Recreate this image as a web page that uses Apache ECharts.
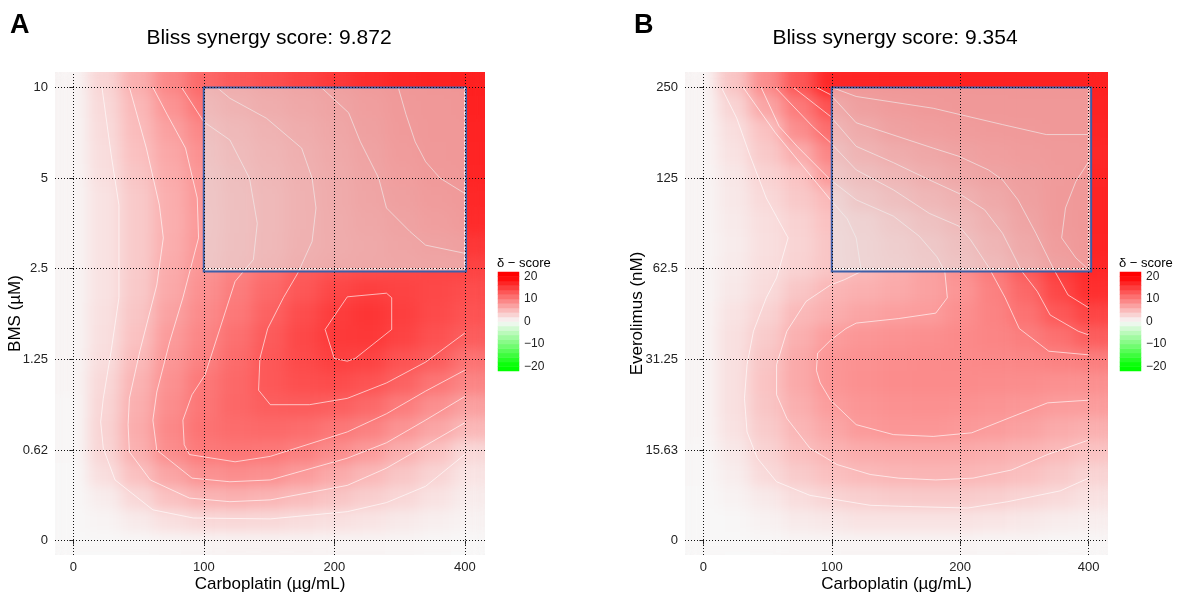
<!DOCTYPE html>
<html>
<head>
<meta charset="utf-8">
<title>Bliss synergy maps</title>
<script src="https://cdn.jsdelivr.net/npm/echarts@6.0.0/dist/echarts.min.js"></script>
<style>
  html, body { margin: 0; padding: 0; background: #fff; }
  #page { position: relative; width: 1177px; height: 594px; }
  .heat { position: absolute; filter: url(#smooth); }
  #chart { position: absolute; left: 0; top: 0; width: 1177px; height: 594px; }
</style>
</head>
<body>
<!-- blur the heat tiles the way the kriged surface looks; alpha is restored so the edges stay solid -->
<svg width="0" height="0" style="position:absolute">
  <filter id="smooth" x="0" y="0" width="1" height="1" color-interpolation-filters="sRGB">
    <feGaussianBlur stdDeviation="8 6"/>
    <feComponentTransfer><feFuncA type="linear" slope="60"/></feComponentTransfer>
  </filter>
</svg>
<div id="page">
  <div id="heatA" class="heat" style="left:55px;top:72px;width:430px;height:483px"></div>
  <div id="heatB" class="heat" style="left:685px;top:72px;width:423px;height:483px"></div>
  <div id="chart"></div>
</div>
<script>
// axis tick labels (dose levels)
const carboLabels = ['0', '100', '200', '400'];
const bmsLabels = ['0', '0.62', '1.25', '2.5', '5', '10'];
const everoLabels = ['0', '15.63', '31.25', '62.5', '125', '250'];

// delta scores, rows bottom (dose 0) -> top, 13 columns left -> right
const bmsSynergy = [
  [0.1, 0.1, 0.2, 0.3, 0.4, 0.5, 0.5, 0.5, 0.4, 0.4, 0.3, 0.2, 0.1],
  [0.1, 0.4, 1.1, 2.0, 2.6, 2.7, 2.6, 2.2, 1.9, 1.6, 1.2, 0.8, 0.5],
  [0.1, 1.0, 2.7, 4.4, 5.4, 5.7, 5.4, 4.8, 4.1, 3.4, 2.7, 1.8, 1.0],
  [0.1, 2.1, 4.5, 6.7, 8.2, 8.6, 8.4, 7.4, 6.3, 5.2, 4.0, 2.9, 1.6],
  [0.2, 2.8, 5.8, 8.6, 10.2, 10.5, 10.3, 9.7, 8.6, 7.5, 5.9, 4.4, 2.6],
  [0.2, 3.0, 6.1, 9.0, 10.7, 11.3, 11.5, 11.2, 10.4, 9.6, 8.1, 6.6, 5.2],
  [0.2, 2.8, 5.9, 8.6, 10.5, 11.7, 12.4, 12.6, 12.3, 11.5, 10.0, 8.5, 7.1],
  [0.3, 2.6, 5.6, 8.3, 10.3, 11.6, 12.9, 13.6, 13.9, 13.3, 12.1, 10.6, 9.3],
  [0.3, 2.2, 5.0, 7.9, 9.6, 11.4, 12.9, 14.0, 14.8, 14.6, 13.3, 12.5, 10.7],
  [0.3, 2.0, 4.4, 7.5, 9.2, 11.0, 12.7, 14.2, 15.3, 15.5, 14.6, 13.5, 12.5],
  [0.3, 1.9, 4.1, 6.9, 8.8, 10.3, 12.1, 13.8, 15.1, 15.7, 14.9, 14.0, 13.3],
  [0.3, 1.8, 3.8, 6.4, 8.4, 9.9, 11.5, 13.0, 14.3, 14.9, 14.6, 14.2, 13.8],
  [0.3, 1.8, 3.7, 6.2, 8.0, 9.4, 10.9, 12.6, 13.4, 13.8, 14.1, 14.4, 14.6],
  [0.3, 1.8, 3.7, 6.0, 7.8, 9.2, 10.6, 12.1, 13.0, 13.6, 14.4, 15.1, 15.6],
  [0.3, 1.8, 3.7, 5.9, 7.7, 9.1, 10.5, 11.9, 13.1, 14.0, 14.9, 15.8, 16.5],
  [0.3, 1.8, 3.8, 6.0, 7.8, 9.2, 10.5, 11.9, 13.2, 14.4, 15.5, 16.4, 16.8],
  [0.3, 2.0, 4.1, 6.2, 7.9, 9.4, 10.8, 12.1, 13.3, 14.6, 15.9, 16.8, 17.0],
  [0.3, 2.2, 4.5, 6.5, 8.4, 10.0, 11.2, 12.4, 13.6, 14.9, 16.3, 16.9, 17.1],
  [0.3, 2.3, 4.8, 7.1, 9.1, 10.6, 11.8, 13.0, 14.1, 15.4, 16.6, 17.0, 17.2],
  [0.3, 2.5, 5.2, 8.1, 10.4, 11.8, 12.9, 13.8, 14.7, 15.8, 16.8, 17.1, 17.3],
  [0.3, 2.8, 5.9, 9.1, 11.5, 12.8, 13.6, 14.5, 15.4, 16.4, 17.0, 17.3, 17.4]
];

const everoSynergy = [
  [0.1, 0.1, 0.2, 0.3, 0.3, 0.4, 0.4, 0.4, 0.4, 0.3, 0.3, 0.2, 0.2],
  [0.1, 0.2, 0.6, 1.1, 1.4, 1.7, 1.7, 1.7, 1.7, 1.5, 1.3, 1.0, 0.8],
  [0.1, 0.5, 1.2, 2.2, 2.9, 3.3, 3.6, 3.7, 3.6, 3.3, 2.8, 2.4, 1.8],
  [0.2, 0.9, 2.4, 3.6, 4.5, 5.0, 5.3, 5.4, 5.3, 5.0, 4.5, 3.8, 2.9],
  [0.2, 1.3, 3.0, 4.6, 5.5, 6.1, 6.3, 6.4, 6.3, 6.0, 5.6, 5.0, 4.3],
  [0.3, 1.8, 3.6, 5.3, 6.5, 7.6, 7.9, 7.9, 7.7, 7.4, 6.9, 6.2, 5.8],
  [0.3, 1.9, 4.1, 5.9, 7.3, 8.0, 8.3, 8.4, 8.3, 8.1, 7.8, 7.4, 7.3],
  [0.3, 1.9, 4.3, 6.4, 7.9, 8.4, 8.7, 8.8, 8.8, 8.7, 8.6, 8.4, 8.4],
  [0.3, 1.9, 4.1, 6.4, 7.9, 8.3, 8.6, 8.8, 8.9, 9.0, 9.2, 9.5, 9.8],
  [0.3, 1.9, 3.6, 5.8, 7.3, 7.9, 8.2, 8.5, 8.9, 9.3, 9.8, 11.0, 12.4],
  [0.3, 1.7, 3.0, 5.1, 6.0, 6.7, 7.2, 7.4, 8.5, 9.4, 10.8, 12.9, 14.4],
  [0.3, 1.3, 2.3, 4.0, 5.3, 5.8, 6.3, 7.0, 8.0, 9.6, 11.6, 14.3, 16.2],
  [0.3, 1.1, 2.1, 3.1, 4.1, 5.1, 6.0, 7.0, 8.4, 10.2, 12.7, 15.2, 16.8],
  [0.3, 1.0, 2.0, 2.9, 4.1, 5.2, 6.3, 7.5, 9.2, 11.2, 13.6, 16.1, 17.1],
  [0.3, 1.1, 2.1, 3.1, 4.4, 5.6, 7.2, 8.8, 10.4, 12.3, 14.6, 16.6, 17.2],
  [0.3, 1.3, 2.5, 3.8, 5.1, 7.8, 9.3, 10.8, 12.0, 13.6, 15.3, 16.6, 17.1],
  [0.3, 1.4, 3.0, 4.3, 7.7, 9.5, 11.0, 12.6, 13.8, 14.8, 15.7, 16.5, 17.0],
  [0.3, 1.8, 3.8, 6.1, 9.3, 11.6, 13.1, 14.0, 15.1, 15.8, 16.3, 16.6, 16.8],
  [0.3, 2.1, 4.4, 8.6, 11.2, 13.4, 15.2, 15.8, 16.3, 16.6, 16.8, 17.0, 17.0],
  [0.3, 2.9, 6.6, 10.2, 13.4, 15.5, 16.3, 16.8, 17.0, 17.1, 17.2, 17.2, 17.2],
  [0.3, 4.1, 8.6, 13.0, 16.9, 17.1, 17.2, 17.2, 17.3, 17.3, 17.3, 17.3, 17.3]
];

// contour lines, [dose index x, dose index y]
const bmsContours = [
  [[0.22,5],[0.29,4.26],[0.35,3.7],[0.35,2.68],[0.29,2.09],[0.23,1.57],[0.21,1.31],[0.23,1.02],[0.32,0.67],[0.61,0.34],[0.92,0.25],[1.51,0.24],[2.1,0.32],[2.4,0.42],[2.7,0.6],[3,0.95]],
  [[0.43,5],[0.56,4.33],[0.66,3.7],[0.69,3.34],[0.64,2.82],[0.51,2.09],[0.43,1.57],[0.42,1.28],[0.43,0.98],[0.59,0.67],[0.89,0.47],[1.2,0.43],[1.51,0.45],[2.1,0.61],[2.4,0.8],[2.7,1.05],[3,1.3]],
  [[0.61,5],[0.72,4.7],[0.86,4.33],[0.95,3.78],[0.96,3.34],[0.84,2.68],[0.74,2.2],[0.64,1.64],[0.61,1.33],[0.64,1.0],[0.91,0.69],[1.2,0.65],[1.51,0.67],[2.1,0.91],[2.4,1.08],[2.7,1.33],[3,1.59]],
  [[0.83,5],[1.0,4.62],[1.2,4.42],[1.35,4.0],[1.41,3.5],[1.38,3.1],[1.24,2.86],[1.01,1.83],[0.91,1.61],[0.84,1.33],[0.85,1.06],[0.89,0.95],[1.24,0.87],[1.51,0.93],[2.1,1.2],[2.4,1.4],[2.7,1.65],[3,1.88]],
  [[1.1,5],[1.2,4.88],[1.48,4.66],[1.75,4.33],[1.83,4.0],[1.86,3.67],[1.83,3.3],[1.72,2.95],[1.61,2.68],[1.49,2.34],[1.43,2.01],[1.42,1.66],[1.51,1.5],[1.81,1.5],[2.1,1.57],[2.4,1.74],[2.7,1.97],[3,2.29]],
  [[1.9,5],[2.11,4.72],[2.2,4.4],[2.34,4.0],[2.4,3.67],[2.58,3.41],[2.7,3.26],[3,3.17]],
  [[2.1,2.69],[2.4,2.73],[2.44,2.68],[2.44,2.33],[2.16,2.01],[2.1,1.98],[2.0,2.01],[1.93,2.33],[2.1,2.69]],
  [[2.49,5],[2.55,4.7],[2.62,4.4],[2.7,4.18],[2.81,4.0],[3,3.83]]
];

const everoContours = [
  [[0.14,5],[0.26,4.66],[0.36,4.26],[0.49,3.78],[0.66,3.34],[0.57,2.9],[0.49,2.68],[0.39,2.31],[0.34,1.94],[0.32,1.57],[0.34,1.2],[0.42,0.91],[0.57,0.65],[0.83,0.5],[1.3,0.39],[1.52,0.38],[2.06,0.36],[2.37,0.43],[2.78,0.55],[3,0.69]],
  [[0.31,5],[0.56,4.5],[0.88,3.95],[0.99,3.76],[1.12,3.55],[1.19,3.34],[1.23,2.97],[1.1,2.88],[0.99,2.82],[0.8,2.64],[0.65,2.31],[0.57,1.94],[0.57,1.61],[0.65,1.35],[0.83,1.02],[1.04,0.84],[1.3,0.73],[1.52,0.69],[1.81,0.67],[2.1,0.69],[2.4,0.78],[2.68,0.95],[3,1.11]],
  [[0.45,5],[0.59,4.57],[0.73,4.35],[0.99,3.98],[1.19,3.76],[1.48,3.58],[1.68,3.36],[1.82,3.13],[1.88,2.97],[1.9,2.68],[1.81,2.51],[1.52,2.45],[1.19,2.4],[1.11,2.34],[0.99,2.21],[0.89,2.07],[0.88,1.88],[0.91,1.74],[0.99,1.55],[1.19,1.28],[1.48,1.17],[1.79,1.15],[2.09,1.19],[2.41,1.37],[2.68,1.52],[3,1.55]],
  [[0.56,5],[0.85,4.57],[0.99,4.39],[1.19,4.09],[1.48,3.87],[1.76,3.61],[1.99,3.47],[2.08,3.32],[2.22,3.02],[2.35,2.68],[2.46,2.34],[2.69,2.09],[3,2.05]],
  [[0.7,5],[0.99,4.68],[1.19,4.35],[1.48,4.17],[1.76,3.98],[1.99,3.83],[2.19,3.65],[2.33,3.39],[2.48,2.97],[2.6,2.75],[2.7,2.49],[2.92,2.31],[3,2.27]],
  [[0.88,5],[0.99,4.92],[1.19,4.61],[1.79,4.33],[1.99,4.24],[2.22,4.09],[2.33,3.98],[2.45,3.76],[2.59,3.39],[2.73,2.99],[2.84,2.71],[3,2.57]],
  [[1.0,5],[1.19,4.9],[1.79,4.77],[2.33,4.59],[2.67,4.48],[3,4.48]],
  [[3,4.18],[2.9,3.96],[2.82,3.67],[2.79,3.34],[2.9,3.12],[3,2.99]]
];

// highlighted dose region: [x0, y0, x1, y1]
const bmsBox = [1.0, 2.97, 3.01, 5.0];
const everoBox = [1.0, 2.97, 3.02, 5.0];

// colour bar steps and labels
const legendSteps = [-21, -19, -17, -15, -13, -11, -9, -7, -5, -3, -1, 1, 3, 5, 7, 9, 11, 13, 15, 17, 19, 21];
const legendTicks = [-20, -10, 0, 10, 20];

const xTicks = [0, 1, 2, 3];
const yTicks = [0, 1, 2, 3, 4, 5];

const FONT = 'Liberation Sans, Arial, Helvetica, sans-serif';
const SCALE = ['#00ff00', '#f8f8f8', '#ff0000'];

function toCells(grid) {
  const out = [];
  grid.forEach((row, r) => row.forEach((v, c) => out.push([c, r, v])));
  return out;
}

const colCats = bmsSynergy[0].map((_, i) => 'c' + i);
const rowCats = bmsSynergy.map((_, i) => 'r' + i);

// the heat surface of each panel sits in its own div under the main chart
function drawHeat(id, grid) {
  const c = echarts.init(document.getElementById(id));
  c.setOption({
    animation: false,
    grid: { left: 0, right: 0, top: 0, bottom: 0, outerBoundsMode: 'none' },
    xAxis: { type: 'category', data: colCats, show: false },
    yAxis: { type: 'category', data: rowCats, show: false },
    visualMap: { type: 'continuous', show: false, min: -20, max: 20, inRange: { color: SCALE } },
    series: [{ type: 'heatmap', data: toCells(grid), silent: true, emphasis: { disabled: true } }]
  });
}
drawHeat('heatA', bmsSynergy);
drawHeat('heatB', everoSynergy);

function catAxis(gridIndex, data, position) {
  return { type: 'category', gridIndex, data, show: false, position };
}

function xValueAxis(gridIndex, min, max) {
  return {
    type: 'value', gridIndex, min, max, position: 'bottom',
    name: 'Carboplatin (\u00b5g/mL)', nameLocation: 'middle', nameGap: 21, nameMoveOverlap: false,
    nameTextStyle: { fontFamily: FONT, fontSize: 17, color: '#000' },
    axisLine: { show: false },
    splitLine: { show: false },
    axisTick: { show: true, customValues: xTicks, length: 4, lineStyle: { color: '#333' } },
    axisLabel: {
      customValues: xTicks, margin: 6, fontFamily: FONT, fontSize: 13, color: '#222',
      formatter: (v) => carboLabels[Math.round(v)]
    }
  };
}

function yValueAxis(gridIndex, labels, name, gap) {
  return {
    type: 'value', gridIndex, min: -0.158, max: 5.17, position: 'left',
    name, nameLocation: 'middle', nameGap: gap, nameRotate: 90, nameMoveOverlap: false,
    nameTextStyle: { fontFamily: FONT, fontSize: 17, color: '#000' },
    axisLine: { show: false },
    splitLine: { show: false },
    axisTick: { show: true, customValues: yTicks, length: 4, lineStyle: { color: '#333' } },
    axisLabel: {
      customValues: yTicks, margin: 7, fontFamily: FONT, fontSize: 13, color: '#222',
      formatter: (v) => labels[Math.round(v)]
    }
  };
}

function legendAxis(gridIndex, position, showLabels) {
  return {
    type: 'value', gridIndex, min: -22, max: 22, position,
    axisLine: { show: false },
    splitLine: { show: false },
    axisTick: { show: true, inside: true, customValues: legendTicks, length: 4, lineStyle: { color: '#fff', width: 1 } },
    axisLabel: {
      show: showLabels, customValues: legendTicks, margin: 5, fontFamily: FONT, fontSize: 12, color: '#222',
      formatter: (v) => (v < 0 ? '\u2212' + Math.abs(v) : String(v))
    }
  };
}

function contourSeries(xi, yi, lines) {
  return lines.map((pts) => ({
    type: 'line', xAxisIndex: xi, yAxisIndex: yi, data: pts,
    symbol: 'none', silent: true, z: 2,
    lineStyle: { color: 'rgba(255,255,255,0.7)', width: 0.9 }
  }));
}

function gridLines(xi, yi) {
  return {
    type: 'line', xAxisIndex: xi, yAxisIndex: yi, data: [], z: 3, silent: true,
    markLine: {
      silent: true, symbol: 'none', label: { show: false },
      lineStyle: { color: '#111', width: 1, type: [1, 2] },
      data: xTicks.map((v) => ({ xAxis: v })).concat(yTicks.map((v) => ({ yAxis: v })))
    }
  };
}

// shaded box, plus the pale dashed grid lines that show just inside its lower and right edges
function boxSeries(xi, yi, box) {
  return {
    type: 'custom', xAxisIndex: xi, yAxisIndex: yi, data: [box], z: 4, silent: true,
    renderItem: (params, api) => {
      const p0 = api.coord([api.value(0), api.value(3)]);
      const p1 = api.coord([api.value(2), api.value(1)]);
      const a = api.coord([xTicks[1], yTicks[3]]);
      const b = api.coord([xTicks[3], yTicks[3]]);
      const c = api.coord([xTicks[3], yTicks[5]]);
      return {
        type: 'group',
        children: [
          {
            type: 'rect',
            shape: { x: p0[0], y: p0[1], width: p1[0] - p0[0], height: p1[1] - p0[1] },
            style: { fill: 'rgba(230,230,230,0.6)', stroke: '#3e5fa8', lineWidth: 2 }
          },
          {
            type: 'polyline',
            shape: { points: [a, b, c] },
            style: { fill: null, stroke: 'rgba(255,255,255,0.85)', lineWidth: 1.5, lineDash: [3, 2] }
          }
        ]
      };
    }
  };
}

const chart = echarts.init(document.getElementById('chart'));

const option = {
  animation: false,
  backgroundColor: 'transparent',
  grid: [
    { left: 55, top: 72, width: 430, height: 483, outerBoundsMode: 'none' },
    { left: 685, top: 72, width: 423, height: 483, outerBoundsMode: 'none' },
    { left: 498, top: 272, width: 21, height: 99, outerBoundsMode: 'none' },
    { left: 1120, top: 272, width: 21, height: 99, outerBoundsMode: 'none' }
  ],
  xAxis: [
    xValueAxis(0, -0.14, 3.155),
    xValueAxis(1, -0.143, 3.151),
    catAxis(2, ['bar'], 'bottom'),
    catAxis(3, ['bar'], 'bottom')
  ],
  yAxis: [
    yValueAxis(0, bmsLabels, 'BMS (\u00b5M)', 31),
    yValueAxis(1, everoLabels, 'Everolimus (nM)', 39),
    catAxis(2, legendSteps.map(String), 'left'),
    legendAxis(2, 'right', true),
    legendAxis(2, 'left', false),
    catAxis(3, legendSteps.map(String), 'left'),
    legendAxis(3, 'right', true),
    legendAxis(3, 'left', false)
  ],
  visualMap: {
    type: 'continuous', show: false, min: -20, max: 20,
    seriesIndex: [0, 1],
    inRange: { color: SCALE }
  },
  graphic: [
    { type: 'text', left: 10, top: 12, style: { text: 'A', font: 'bold 27px ' + FONT, fill: '#000' } },
    { type: 'text', left: 634, top: 12, style: { text: 'B', font: 'bold 27px ' + FONT, fill: '#000' } },
    { type: 'text', x: 269, y: 38, style: { text: 'Bliss synergy score: 9.872', font: '21px ' + FONT, fill: '#000', align: 'center', verticalAlign: 'middle' } },
    { type: 'text', x: 895, y: 38, style: { text: 'Bliss synergy score: 9.354', font: '21px ' + FONT, fill: '#000', align: 'center', verticalAlign: 'middle' } },
    { type: 'text', x: 497, y: 263, style: { text: '\u03b4 \u2212 score', font: '13px ' + FONT, fill: '#000', verticalAlign: 'middle' } },
    { type: 'text', x: 1119, y: 263, style: { text: '\u03b4 \u2212 score', font: '13px ' + FONT, fill: '#000', verticalAlign: 'middle' } }
  ],
  series: [
    {
      type: 'heatmap', xAxisIndex: 2, yAxisIndex: 2, silent: true,
      data: legendSteps.map((v, i) => [0, i, v]), emphasis: { disabled: true }
    },
    {
      type: 'heatmap', xAxisIndex: 3, yAxisIndex: 5, silent: true,
      data: legendSteps.map((v, i) => [0, i, v]), emphasis: { disabled: true }
    }
  ]
    .concat(contourSeries(0, 0, bmsContours))
    .concat(contourSeries(1, 1, everoContours))
    .concat([gridLines(0, 0), gridLines(1, 1), boxSeries(0, 0, bmsBox), boxSeries(1, 1, everoBox)])
};

chart.setOption(option);
</script>
</body>
</html>
